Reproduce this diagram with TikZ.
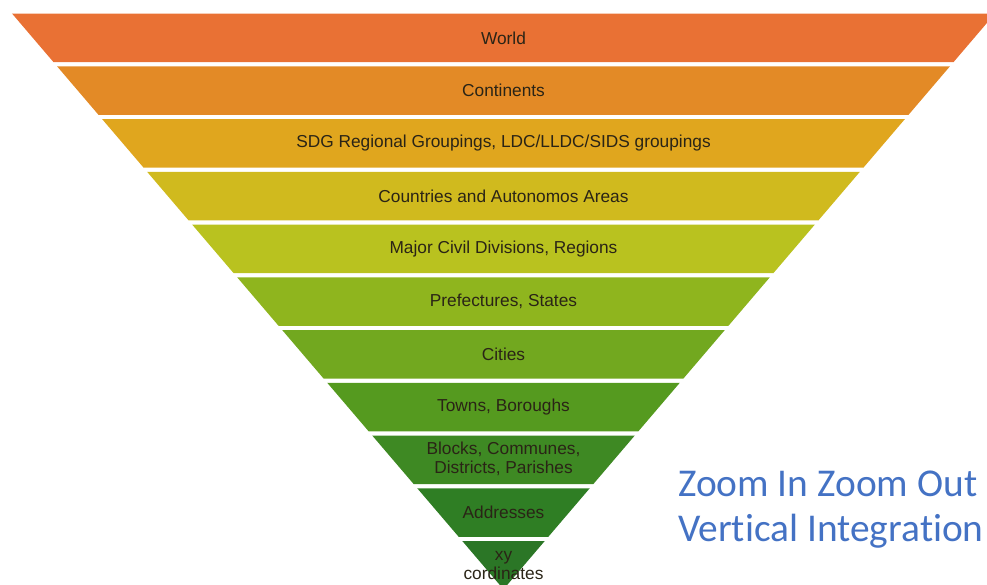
\documentclass[tikz,border=0pt]{standalone}
\usepackage{fontspec}
\setmainfont{Liberation Sans}
\newfontfamily\calib[Ligatures={NoCommon}]{Carlito}
\definecolor{c1}{HTML}{E97134}
\definecolor{c2}{HTML}{E38A26}
\definecolor{c3}{HTML}{E0A61E}
\definecolor{c4}{HTML}{D0BA1E}
\definecolor{c5}{HTML}{B9C21F}
\definecolor{c6}{HTML}{8FB51E}
\definecolor{c7}{HTML}{72A81F}
\definecolor{c8}{HTML}{559A1F}
\definecolor{c9}{HTML}{3E8923}
\definecolor{c10}{HTML}{2F7E24}
\definecolor{c11}{HTML}{2B7626}
\definecolor{txt}{HTML}{2A2416}
\definecolor{zblue}{HTML}{4472C4}
\tikzset{
  lbl/.style={text=txt, font=\fontsize{17.3}{19.5}\selectfont, align=center, inner sep=0pt},
  big/.style={text=zblue, font=\calib\fontsize{39.4}{45}\selectfont, align=left, anchor=north west, inner sep=0pt}
}
\begin{document}
\begin{tikzpicture}[x=1pt,y=-1pt]
\useasboundingbox (0,0) rectangle (987,584);
\begin{scope}
\clip (0,0) rectangle (987,584);
\foreach \k/\c in {0/c1,1/c2,2/c3,3/c4,4/c5,5/c6,6/c7,7/c8,8/c9,9/c10,10/c11}{
  \pgfmathsetmacro{\yt}{13.5+52.75*\k}
  \pgfmathsetmacro{\yb}{min(\yt+48.7,589.3)}
  \pgfmathsetmacro{\ht}{(589.3-\yt)*0.8536}
  \pgfmathsetmacro{\hb}{(589.3-\yb)*0.8536}
  \fill[\c] (503.5-\ht,\yt) -- (503.5+\ht,\yt) -- (503.5+\hb,\yb) -- (503.5-\hb,\yb) -- cycle;
}
\end{scope}
\node[lbl] (b1) at (503.5,38) {World};
\node[lbl] (b2) at (503.5,90.5) {Continents};
\node[lbl] (b3) at (503.5,143) {SDG Regional Groupings, LDC/LLDC/SIDS groupings};
\node[lbl] (b4) at (503.5,196) {Countries and Autonomos Areas};
\node[lbl] (b5) at (503.5,249) {Major Civil Divisions, Regions};
\node[lbl] (b6) at (503.5,301.5) {Prefectures, States};
\node[lbl] (b7) at (503.5,354) {Cities};
\node[lbl] (b8) at (503.5,407) {Towns, Boroughs};
\node[lbl] (b9) at (503.5,459) {Blocks, Communes,\\Districts, Parishes};
\node[lbl] (b10) at (503.5,512) {Addresses};
\node[lbl] (b11) at (503.5,565.5) {xy\\cordinates};
\node[big] (zoom) at (678,471) {Zoom In Zoom Out\\Vertical Integration};
\end{tikzpicture}
\end{document}
